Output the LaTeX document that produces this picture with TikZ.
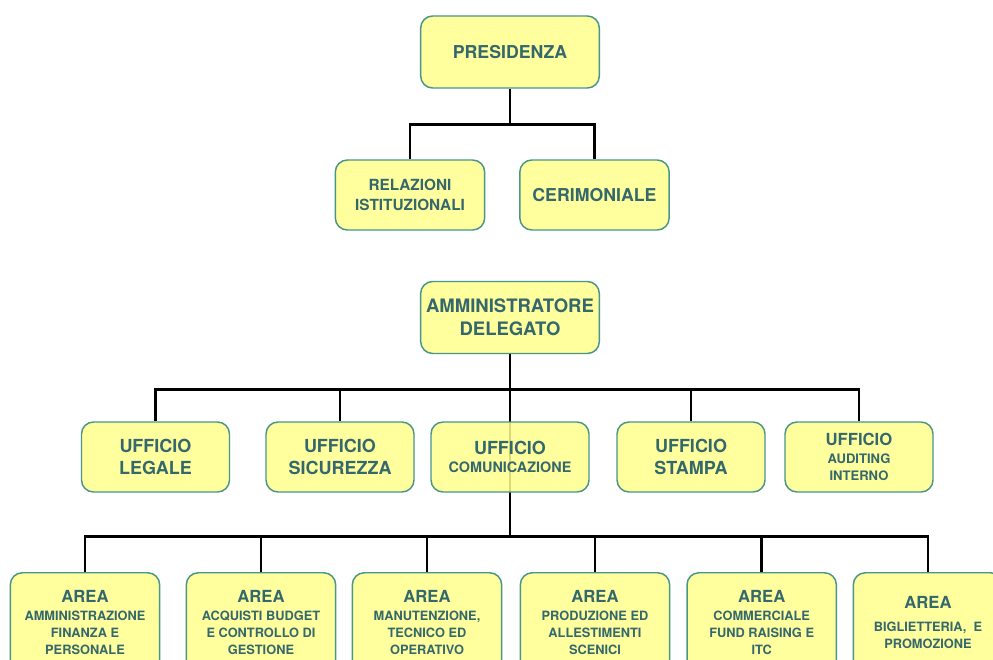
\documentclass[tikz,border=0pt]{standalone}
\usepackage{fontspec}
\setmainfont{TeX Gyre Heros}
\usetikzlibrary{backgrounds}
\definecolor{boxfill}{RGB}{255,255,140}
\definecolor{boxline}{RGB}{72,150,138}
\definecolor{tealtext}{RGB}{52,104,108}

\begin{document}
\begin{tikzpicture}[x=0.75pt,y=-0.75pt,
  box/.style={draw=boxline, line width=1.1pt, fill=boxfill, fill opacity=0.85,
    text opacity=1, rounded corners=9pt, text=tealtext, align=center, inner sep=2pt},
  topbox/.style={box, minimum width=134pt, minimum height=54pt,
    font=\bfseries\fontsize{13.3}{16}\selectfont},
  midbox/.style={box, minimum width=112pt, minimum height=52.5pt,
    font=\bfseries\fontsize{13.3}{16}\selectfont},
  ufbox/.style={box, minimum width=111pt, minimum height=52.5pt,
    font=\bfseries\fontsize{13.5}{16}\selectfont},
  areabox/.style={box, anchor=north, minimum width=112pt, minimum height=75pt,
    font=\bfseries\fontsize{9.6}{13}\selectfont},
  link/.style={black, line width=1.9pt}]
\useasboundingbox (0,0) rectangle (993,660);

% Presidenza
\node[topbox] (pres) at (510,52) {PRESIDENZA};
\node[midbox, font=\bfseries\fontsize{11.5}{15}\selectfont] (rel) at (410,195) {RELAZIONI\\ISTITUZIONALI};
\node[midbox] (cer) at (594.5,195) {CERIMONIALE};

% Amministratore delegato
\node[topbox, font=\bfseries\fontsize{13.9}{17.5}\selectfont] (ad) at (510,317.5) {AMMINISTRATORE\\DELEGATO};

% Uffici
\node[ufbox] (uleg) at (155.5,457) {UFFICIO\\LEGALE};
\node[ufbox] (usic) at (340,457) {UFFICIO\\SICUREZZA};
\node[ufbox, minimum width=118.5pt] (ucom) at (510,457) {UFFICIO\\[-2pt]{\fontsize{10.8}{14}\selectfont COMUNICAZIONE}};
\node[ufbox] (usta) at (691,457) {UFFICIO\\STAMPA};
\node[ufbox, font=\bfseries\fontsize{9.8}{13}\selectfont] (uaud) at (859,457) {{\fontsize{12.5}{13}\selectfont UFFICIO}\\AUDITING\\INTERNO};

% Aree
\node[areabox] (a1) at (85,572) {{\fontsize{12.5}{13}\selectfont AREA}\\AMMINISTRAZIONE\\FINANZA E\\PERSONALE};
\node[areabox] (a2) at (261,572) {{\fontsize{12.5}{13}\selectfont AREA}\\ACQUISTI BUDGET\\E CONTROLLO DI\\GESTIONE};
\node[areabox] (a3) at (427,572) {{\fontsize{12.5}{13}\selectfont AREA}\\MANUTENZIONE,\\TECNICO ED\\OPERATIVO};
\node[areabox] (a4) at (595,572) {{\fontsize{12.5}{13}\selectfont AREA}\\PRODUZIONE ED\\ALLESTIMENTI\\SCENICI};
\node[areabox] (a5) at (761.7,572) {{\fontsize{12.5}{13}\selectfont AREA}\\COMMERCIALE\\FUND RAISING E\\ITC};
\node[areabox] (a6) at (928,572) {{\fontsize{12.5}{13}\selectfont AREA}\\[4pt]BIGLIETTERIA,~ E\\PROMOZIONE};

% Connectors
\begin{scope}[on background layer]
\fill[white] (0,0) rectangle (993,660);
\draw[link] (pres.south) -- ++(0,36) coordinate (bus0);
\draw[link] (rel.north) |- (bus0) -| (cer.north);
\draw[link] (ad.south) -- ++(0,35) coordinate (bus1);
\draw[link] (uleg.north) |- (bus1) -| (uaud.north);
\foreach \n in {usic,usta}
  \draw[link] (\n.north) -- (\n.north |- bus1);
\draw[link] (bus1) -- (ucom.south) -- ++(0,44) coordinate (bus2);
\draw[link] (a1.north) |- (bus2) -| (a6.north);
\foreach \n in {a2,a3,a4,a5}
  \draw[link] (\n.north) -- (\n.north |- bus2);
\end{scope}
\end{tikzpicture}
\end{document}
